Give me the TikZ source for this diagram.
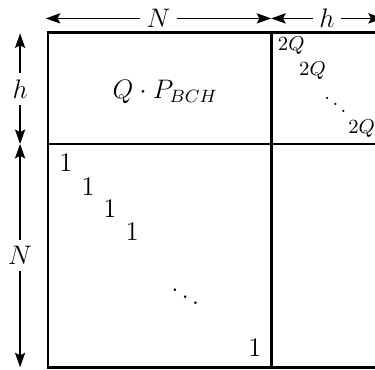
\documentclass[tikz,border=0pt]{standalone}
\usepackage{amsmath,amssymb}
\usetikzlibrary{arrows.meta,positioning,calc}

\tikzset{
  blockline/.style={line width=1.3pt},
  dimline/.style={semithick,{Stealth[length=6.5pt,width=4.6pt,inset=1.2pt]}-{Stealth[length=6.5pt,width=4.6pt,inset=1.2pt]}},
  dimlabel/.style={fill=white,inner xsep=3pt,inner ysep=1pt,font=\large},
  vdimlabel/.style={fill=white,inner xsep=1pt,inner ysep=3pt,font=\large},
  entry/.style={font=\large,inner sep=1pt},
  smallentry/.style={font=\small,inner sep=1pt}
}

\begin{document}
\begin{tikzpicture}[x=25pt,y=25pt]
\useasboundingbox (-.86,-.04) rectangle (5.86,6.58);
\clip (-.86,-.04) rectangle (5.86,6.58);
% dimension ends
\coordinate (nl) at (-.04,6.25);
\coordinate (nr) at (4,6.25);
\coordinate (hr) at (6,6.25);
\coordinate (ht) at (-.5,5.98);
\coordinate (hb) at (-.5,4);
\coordinate (nb) at (-.5,0);
\draw[dimline] (nl) -- (nr) node[dimlabel,midway] (lblN) {$N$};
\draw[dimline] (nr) -- (hr) node[dimlabel,midway] (lblh) {$h$};
\draw[dimline] (ht) -- (hb) node[vdimlabel,midway] (lblhv) {$h$};
\draw[dimline] (hb) -- (nb) node[vdimlabel,midway] (lblNv) {$N$};
% blocks
\draw[blockline] (0,0) rectangle (6,6);
\draw[blockline] (4,0) -- (4,6);
\draw[blockline] (0,4) -- (6,4);
% upper left block
\node[entry] (qp) at (2.1,4.93) {$Q\cdot P_{BCH}$};
% upper right block
\node[smallentry] (q1) at (4.36,5.76) {$2Q$};
\node[smallentry] (q2) at (4.74,5.32) {$2Q$};
\node[smallentry] (qd) at (5.15,4.82) {$\ddots$};
\node[smallentry] (q3) at (5.62,4.28) {$2Q$};
% lower left block
\node[entry] (e1) at (.32,3.66) {$1$};
\node[entry] (e2) at (.72,3.24) {$1$};
\node[entry] (e3) at (1.11,2.83) {$1$};
\node[entry] (e4) at (1.51,2.42) {$1$};
\node[entry] (ed) at (2.46,1.38) {$\ddots$};
\node[entry] (en) at (3.71,.34) {$1$};
\end{tikzpicture}
\end{document}
